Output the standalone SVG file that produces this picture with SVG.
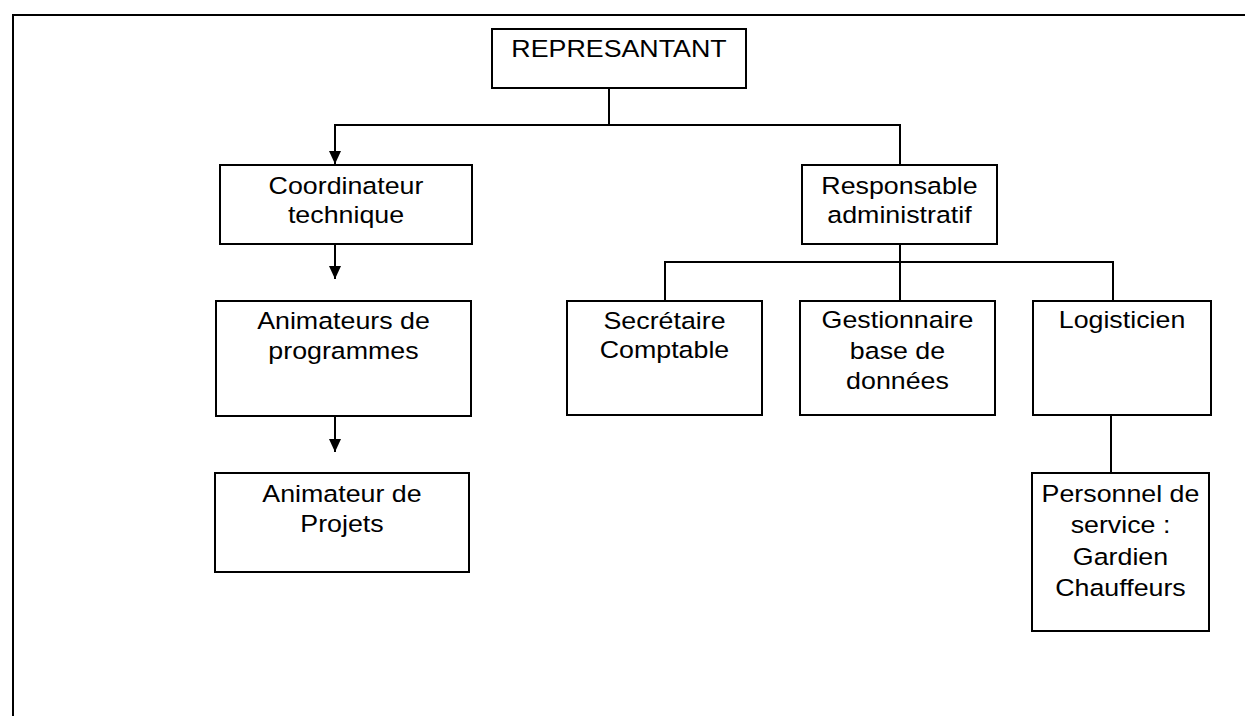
<svg xmlns="http://www.w3.org/2000/svg" width="1245" height="716" viewBox="0 0 1245 716">
<style>
.box{fill:#fff;stroke:#000;stroke-width:2}
.ln{fill:none;stroke:#000;stroke-width:2}
text{font-family:"Liberation Sans",Arial,sans-serif;font-size:23.5px;fill:#000;text-anchor:middle}
</style>
<defs>
<marker id="arr" markerUnits="userSpaceOnUse" markerWidth="14" markerHeight="14" viewBox="0 0 14 14" refX="13" refY="7" orient="auto">
<path d="M0,1 L13,7 L0,13 Z" fill="#000"/>
</marker>
</defs>
<rect width="1245" height="716" fill="#fff"/>
<path class="ln" d="M13,716 V15 H1245"/>
<g id="connectors">
<path class="ln" d="M609,88 V125"/>
<path class="ln" d="M900,165 V125 H335 V164" marker-end="url(#arr)"/>
<path class="ln" d="M335,244 V279" marker-end="url(#arr)"/>
<path class="ln" d="M335,416 V452" marker-end="url(#arr)"/>
<path class="ln" d="M900,244 V301"/>
<path class="ln" d="M665,301 V262 H1113 V301"/>
<path class="ln" d="M1111,415 V473"/>
</g>
<g id="representant">
<rect class="box" x="492" y="29" width="254" height="59"/>
<text transform="matrix(1.14 0 0 1 619 0)" x="0" y="57">REPRESANTANT</text>
</g>
<g id="coordinateur">
<rect class="box" x="220" y="165" width="252" height="79"/>
<text transform="matrix(1.14 0 0 1 346 0)" x="0" y="194">Coordinateur</text>
<text transform="matrix(1.14 0 0 1 346 0)" x="0" y="223">technique</text>
</g>
<g id="responsable">
<rect class="box" x="802" y="165" width="195" height="79"/>
<text transform="matrix(1.14 0 0 1 899.5 0)" x="0" y="194">Responsable</text>
<text transform="matrix(1.14 0 0 1 899.5 0)" x="0" y="223">administratif</text>
</g>
<g id="animateurs-programmes">
<rect class="box" x="216" y="301" width="255" height="115"/>
<text transform="matrix(1.14 0 0 1 343.5 0)" x="0" y="329">Animateurs de</text>
<text transform="matrix(1.14 0 0 1 343.5 0)" x="0" y="359">programmes</text>
</g>
<g id="animateur-projets">
<rect class="box" x="215" y="473" width="254" height="99"/>
<text transform="matrix(1.14 0 0 1 342 0)" x="0" y="502">Animateur de</text>
<text transform="matrix(1.14 0 0 1 342 0)" x="0" y="532">Projets</text>
</g>
<g id="secretaire">
<rect class="box" x="567" y="301" width="195" height="114"/>
<text transform="matrix(1.14 0 0 1 664.5 0)" x="0" y="329">Secrétaire</text>
<text transform="matrix(1.14 0 0 1 664.5 0)" x="0" y="358">Comptable</text>
</g>
<g id="gestionnaire">
<rect class="box" x="800" y="301" width="195" height="114"/>
<text transform="matrix(1.14 0 0 1 897.5 0)" x="0" y="328">Gestionnaire</text>
<text transform="matrix(1.14 0 0 1 897.5 0)" x="0" y="359">base de</text>
<text transform="matrix(1.14 0 0 1 897.5 0)" x="0" y="389">données</text>
</g>
<g id="logisticien">
<rect class="box" x="1033" y="301" width="178" height="114"/>
<text transform="matrix(1.14 0 0 1 1122 0)" x="0" y="328">Logisticien</text>
</g>
<g id="personnel">
<rect class="box" x="1032" y="473" width="177" height="158"/>
<text transform="matrix(1.14 0 0 1 1120.5 0)" x="0" y="502">Personnel de</text>
<text transform="matrix(1.14 0 0 1 1120.5 0)" x="0" y="533">service :</text>
<text transform="matrix(1.14 0 0 1 1120.5 0)" x="0" y="565">Gardien</text>
<text transform="matrix(1.14 0 0 1 1120.5 0)" x="0" y="596">Chauffeurs</text>
</g>
</svg>
